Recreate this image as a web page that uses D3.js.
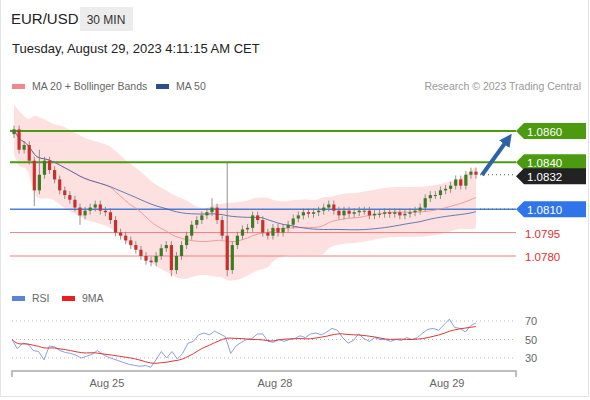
<!DOCTYPE html>
<html><head><meta charset="utf-8">
<script src="https://cdn.jsdelivr.net/npm/d3@7"></script>
<style>body{margin:0;background:#fff;font-family:"Liberation Sans",Arial,sans-serif;}</style>
</head><body><div id="wrapper"></div>
<script>
// Closing prices of the 30 min candles
var closes = [1.0861,1.0848,1.0851,1.0841,1.0822,1.0832,1.0841,1.0835,1.0829,1.0822,1.0819,1.0816,1.0811,1.0806,1.0809,1.0811,1.0813,1.0809,1.0808,1.0803,
  1.0795,1.0793,1.0790,1.0787,1.0784,1.0780,1.0777,1.0776,1.0780,1.0785,1.0787,1.0771,1.0780,1.0787,1.0793,1.0800,1.0803,1.0806,1.0808,1.0811,
  1.0803,1.0793,1.0771,1.0787,1.0793,1.0797,1.0798,1.0806,1.0803,1.0795,1.0793,1.0798,1.0795,1.0798,1.0800,1.0804,1.0806,1.0808,1.0807,1.0808,
  1.0809,1.0811,1.0813,1.0809,1.0806,1.0809,1.0807,1.0808,1.0809,1.0809,1.0806,1.0807,1.0807,1.0808,1.0807,1.0808,1.0806,1.0807,1.0808,1.0809,
  1.0811,1.0817,1.0819,1.0819,1.0822,1.0823,1.0825,1.0829,1.0825,1.0832,1.0834,1.0832];
// long wicks: index -> extreme
var wickHigh = {42: 1.0840, 39: 1.0817, 5: 1.0848};
var wickLow = {4: 1.0812, 31: 1.0767, 42: 1.0767, 13: 1.0800};
var rsi = [50,40,46,45,38,37,28,43,42,38,36,35,33,30,32,34,38,34,31,29,27,25,23,22,21,22,20,28,37,30,37,29,35,46,48,55,57,55,59,56,
  53,35,43,47,50,51,56,56,48,47,50,48,50,51,54,52,56,57,55,58,62,60,52,46,49,56,51,48,52,50,50,48,50,49,52,50,52,57,61,62,60,66,72,63,62,58,65,68];
var levels = [
  {v: 1.0860, type: "res"}, {v: 1.0840, type: "res"}, {v: 1.0810, type: "piv"},
  {v: 1.0795, type: "sup"}, {v: 1.0780, type: "sup"}];
var lastPrice = 1.0832;
var dayTicks = [{i: 18.3, t: "Aug 25"}, {i: 51.4, t: "Aug 28"}, {i: 85.3, t: "Aug 29"}];
var rsiTicks = [30, 50, 70];

var svg = d3.select("#wrapper").append("svg").attr("width", 590).attr("height", 400);
var n = closes.length;
var x = d3.scaleLinear().domain([0, n - 1]).range([14, 476]);
var y = d3.scaleLinear().domain([1.0780, 1.0860]).range([256, 131]);
var ry = d3.scaleLinear().domain([30, 70]).range([358, 321]);
var xr = d3.scaleLinear().domain([0, rsi.length - 1]).range([12, 476]);

// frame
svg.append("rect").attr("x", 0.5).attr("y", -2).attr("width", 588).attr("height", 398.5)
  .attr("fill", "none").attr("stroke", "#e4e4e4");

// header
svg.append("text").attr("x", 11).attr("y", 24).text("EUR/USD").attr("font-size", 15).attr("fill", "#222");
svg.append("rect").attr("x", 80).attr("y", 7).attr("width", 53).attr("height", 24).attr("fill", "#ececec");
svg.append("text").attr("x", 106).attr("y", 24).attr("text-anchor", "middle").text("30 MIN").attr("font-size", 12).attr("fill", "#333");
svg.append("text").attr("x", 12).attr("y", 53).text("Tuesday, August 29, 2023 4:11:15 AM CET").attr("font-size", 13).attr("fill", "#222");

// legends
var legend = function(items, yy) {
  items.forEach(function(d) {
    svg.append("rect").attr("x", d.x).attr("y", yy - 6).attr("width", 13).attr("height", 5).attr("fill", d.c);
    svg.append("text").attr("x", d.x + 20).attr("y", yy).text(d.t).attr("font-size", 10.5).attr("fill", "#666");
  });
};
legend([{x: 12, c: "#f08a8a", t: "MA 20 + Bollinger Bands"}, {x: 156, c: "#2b4f8e", t: "MA 50"}], 90);
legend([{x: 12, c: "#5b84d8", t: "RSI"}, {x: 62, c: "#e82020", t: "9MA"}], 302);
svg.append("text").attr("x", 581).attr("y", 90).attr("text-anchor", "end").text("Research \u00a9 2023 Trading Central")
  .attr("font-size", 10.5).attr("fill", "#999");

// moving averages and bands
var ma = function(arr, p, i) { var s = arr.slice(Math.max(0, i - p + 1), i + 1); return d3.mean(s); };
var bands = closes.map(function(c, i) {
  var s = closes.slice(Math.max(0, i - 19), i + 1);
  var m = d3.mean(s), sd = s.length > 1 ? d3.deviation(s) : 0;
  sd = Math.max(Math.min(sd, 0.0013), 0.0008);
  return {i: i, m: m, up: m + 2 * sd, lo: m - 2 * sd, m50: ma(closes, 50, i)};
});
svg.append("path").datum(bands).attr("fill", "#fde1e1")
  .attr("d", d3.area().curve(d3.curveBasis).x(function(d) { return x(d.i); })
    .y0(function(d) { return y(d.lo); }).y1(function(d) { return y(d.up); }));

// levels
levels.forEach(function(l) {
  var col = l.type == "res" ? "#4c9a10" : l.type == "piv" ? "#4a7fd8" : "#f07f7f";
  svg.append("line").attr("x1", 10).attr("x2", 516).attr("y1", y(l.v)).attr("y2", y(l.v))
    .attr("stroke", col).attr("stroke-width", l.type == "res" ? 2 : l.type == "piv" ? 1.5 : 1);
});

svg.append("path").datum(bands).attr("fill", "none").attr("stroke", "#f08a8a").attr("stroke-width", 0.8)
  .attr("d", d3.line().curve(d3.curveBasis).x(function(d) { return x(d.i); }).y(function(d) { return y(d.m); }));
svg.append("path").datum(bands).attr("fill", "none").attr("stroke", "#3d5ea8").attr("stroke-width", 0.8)
  .attr("d", d3.line().curve(d3.curveBasis).x(function(d) { return x(d.i); }).y(function(d) { return y(d.m50); }));

// candles
var candles = closes.map(function(c, i) {
  var o = i == 0 ? 1.0858 : closes[i - 1];
  var h = wickHigh[i] || Math.max(o, c) + 0.00025, lo = wickLow[i] || Math.min(o, c) - 0.00025;
  return {i: i, o: o, c: c, h: h, l: lo};
});
var cg = svg.append("g");
cg.selectAll("line").data(candles).enter().append("line")
  .attr("x1", function(d) { return x(d.i); }).attr("x2", function(d) { return x(d.i); })
  .attr("y1", function(d) { return y(d.h); }).attr("y2", function(d) { return y(d.l); })
  .attr("stroke", "#777").attr("stroke-width", 0.8);
cg.selectAll("rect").data(candles).enter().append("rect")
  .attr("x", function(d) { return x(d.i) - 1.6; }).attr("width", 3.2)
  .attr("y", function(d) { return y(Math.max(d.o, d.c)); })
  .attr("height", function(d) { return Math.max(1, Math.abs(y(d.o) - y(d.c))); })
  .attr("fill", function(d) { return d.c >= d.o ? "#3c7d22" : "#c8302c"; });

// dotted leaders
[lastPrice, 1.0810].forEach(function(v) {
  svg.append("line").attr("x1", 480).attr("x2", 516).attr("y1", y(v)).attr("y2", y(v))
    .attr("stroke", "#555").attr("stroke-dasharray", "1,3");
});

// tags
var tag = function(v, fill, yy) {
  var t = yy === undefined ? y(v) : yy;
  svg.append("path").attr("d", "M516," + t + "L524," + (t - 8) + "H586V" + (t + 8) + "H524Z").attr("fill", fill);
  svg.append("text").attr("x", 527).attr("y", t + 4.5).text(v.toFixed(4)).attr("font-size", 11.5).attr("fill", "#fff");
};
tag(1.0860, "#4c9a10"); tag(1.0840, "#4c9a10"); tag(lastPrice, "#222", y(lastPrice) + 1.5); tag(1.0810, "#2f74e8");
levels.filter(function(l) { return l.type == "sup"; }).forEach(function(l) {
  svg.append("text").attr("x", 525).attr("y", y(l.v) + 5).text(l.v.toFixed(4)).attr("font-size", 11.5).attr("fill", "#e03030");
});

// arrow
svg.append("defs").append("marker").attr("id", "ah").attr("viewBox", "0 0 10 10").attr("refX", 5).attr("refY", 5)
  .attr("markerWidth", 3.2).attr("markerHeight", 3.2).attr("orient", "auto")
  .append("path").attr("d", "M0,0L10,5L0,10Z").attr("fill", "#2e62a8");
svg.append("line").attr("x1", 482).attr("y1", 175).attr("x2", 508).attr("y2", 139)
  .attr("stroke", "#2e62a8").attr("stroke-width", 4).attr("marker-end", "url(#ah)");

// RSI panel
rsiTicks.forEach(function(v) {
  svg.append("line").attr("x1", 12).attr("x2", 516).attr("y1", ry(v)).attr("y2", ry(v))
    .attr("stroke", "#bbb").attr("stroke-dasharray", "1,3");
  svg.append("text").attr("x", 525).attr("y", ry(v) + 4).text(v).attr("font-size", 11).attr("fill", "#666");
});
var ma9 = rsi.map(function(v, i) { return ma(rsi, 9, i); });
svg.append("path").datum(rsi).attr("fill", "none").attr("stroke", "#7d95e0").attr("stroke-width", 0.9)
  .attr("d", d3.line().x(function(d, i) { return xr(i); }).y(function(d) { return ry(d); }));
svg.append("path").datum(ma9).attr("fill", "none").attr("stroke", "#d83838").attr("stroke-width", 1)
  .attr("d", d3.line().curve(d3.curveBasis).x(function(d, i) { return xr(i); }).y(function(d) { return ry(d); }));

// time axis
var ax = svg.append("g").attr("transform", "translate(0,371)");
ax.append("path").attr("d", "M12,6V0H516V6").attr("fill", "none").attr("stroke", "#aaa").attr("stroke-width", 1.5);
ax.selectAll("text").data(dayTicks).enter().append("text")
  .attr("x", function(d) { return x(d.i); })
  .attr("y", 16).attr("text-anchor", "middle").text(function(d) { return d.t; }).attr("font-size", 11).attr("fill", "#666");
</script></body></html>
